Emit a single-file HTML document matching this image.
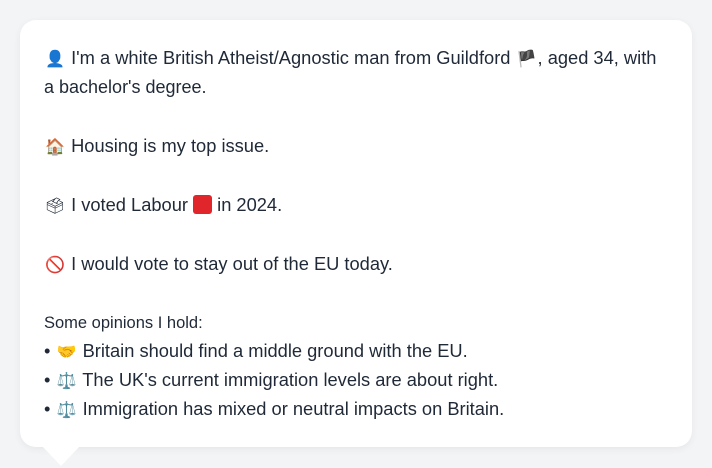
<!DOCTYPE html>
<html><head><meta charset="utf-8"><style>
html,body{margin:0;padding:0;width:712px;height:468px;background:#f3f4f6;overflow:hidden}
.card{position:absolute;left:20px;top:20px;width:672px;height:427px;background:#fff;border-radius:16px;box-shadow:0 2px 8px rgba(0,0,0,0.06)}
.tail{position:absolute;left:42px;top:446px;width:0;height:0;border-left:19px solid transparent;border-right:19px solid transparent;border-top:20px solid #fff}
.l{position:absolute;left:44px;font-family:"Liberation Sans","DejaVu Sans",sans-serif;font-size:18.3px;color:#1f2937;line-height:30px;height:30px;white-space:nowrap}
.e{font-family:"DejaVu Sans",sans-serif;font-size:16px;display:inline-block;width:22px;text-align:center}
</style></head><body>
<div class="card"></div>
<div class="tail"></div>
<div class="l" style="top:43px"><span class="e">👤</span> I'm a white British Atheist/Agnostic man from Guildford <span class="e">🏴</span>, aged 34, with</div>
<div class="l" style="top:72px;font-size:18px">a bachelor's degree.</div>
<div class="l" style="top:131px"><span class="e">🏠</span> Housing is my top issue.</div>
<div class="l" style="top:190px"><span class="e">🗳</span> I voted Labour <span style="display:inline-block;width:19px;height:19px;background:#e0262b;border-radius:3px;vertical-align:-3px"></span> in 2024.</div>
<div class="l" style="top:249px"><span class="e" style="color:#d9342b">🚫</span> I would vote to stay out of the EU today.</div>
<div class="l" style="top:308px;font-size:16.5px">Some opinions I hold:</div>
<div class="l" style="top:336px">• <span class="e">🤝</span> Britain should find a middle ground with the EU.</div>
<div class="l" style="top:365px">• <span class="e">⚖️</span> The UK's current immigration levels are about right.</div>
<div class="l" style="top:394px">• <span class="e">⚖️</span> Immigration has mixed or neutral impacts on Britain.</div>
</body></html>
